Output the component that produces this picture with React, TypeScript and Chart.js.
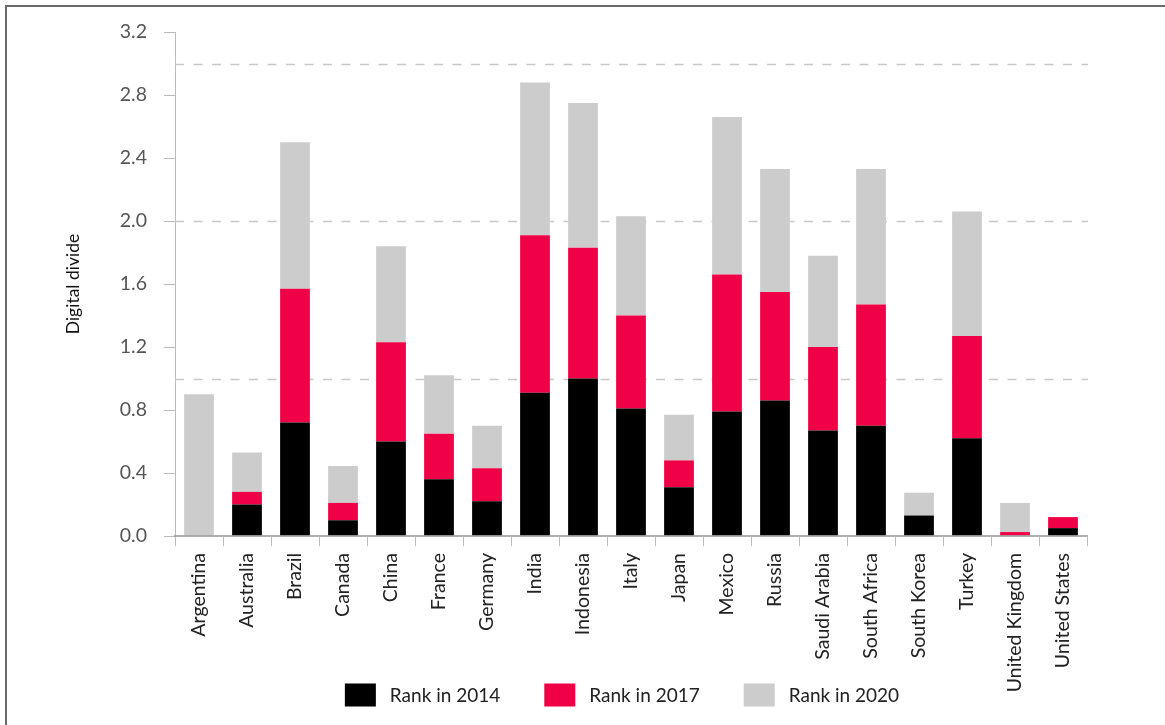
import React, { useEffect, useRef } from "react";
import { Chart, registerables } from "chart.js";
Chart.register(...registerables);

const categories = [
  "Argentina", "Australia", "Brazil", "Canada", "China", "France", "Germany",
  "India", "Indonesia", "Italy", "Japan", "Mexico", "Russia", "Saudi Arabia",
  "South Africa", "South Korea", "Turkey", "United Kingdom", "United States",
];
const rank2014 = [0, 0.2, 0.72, 0.1, 0.6, 0.36, 0.22, 0.91, 1.0, 0.81, 0.31, 0.79, 0.86, 0.67, 0.7, 0.13, 0.62, 0, 0.05];
const rank2017 = [0, 0.08, 0.85, 0.11, 0.63, 0.29, 0.21, 1.0, 0.83, 0.59, 0.17, 0.87, 0.69, 0.53, 0.77, 0, 0.65, 0.025, 0.07];
const rank2020 = [0.9, 0.25, 0.93, 0.235, 0.61, 0.37, 0.27, 0.97, 0.92, 0.63, 0.29, 1.0, 0.78, 0.58, 0.86, 0.145, 0.79, 0.185, 0];
const seriesLabels = ["Rank in 2014", "Rank in 2017", "Rank in 2020"];
const seriesColors = ["#000000", "#f00046", "#cccccc"];
const yTicks = [0, 0.4, 0.8, 1.2, 1.6, 2.0, 2.4, 2.8, 3.2];
const refLines = [1, 2, 3];
const yTitle = "Digital divide";

const FONT = "Lato, 'Noto Sans', sans-serif";

const refLinePlugin = {
  id: "refLines",
  beforeDatasetsDraw(chart: any) {
    const { ctx, chartArea } = chart;
    const y = chart.scales.y;
    ctx.save();
    ctx.strokeStyle = "#c8c8c8";
    ctx.lineWidth = 1.3;
    ctx.setLineDash([9, 9.5]);
    refLines.forEach((v) => {
      const py = Math.round(y.getPixelForValue(v)) + 0.5;
      ctx.beginPath();
      ctx.moveTo(chartArea.left, py);
      ctx.lineTo(chartArea.right + 1, py);
      ctx.stroke();
    });
    ctx.restore();
  },
};

const legendPlugin = {
  id: "customLegend",
  afterDraw(chart: any) {
    const { ctx, chartArea } = chart;
    const boxW = 31, boxH = 23, gapText = 14, gapItem = 44;
    ctx.save();
    ctx.font = `19px ${FONT}`;
    const items = chart.data.datasets.map((d: any) => ({
      label: d.label,
      color: d.backgroundColor,
      w: boxW + gapText + ctx.measureText(d.label).width,
    }));
    const total = items.reduce((s: number, it: any) => s + it.w, 0) + gapItem * (items.length - 1);
    let x = (chartArea.left + chartArea.right) / 2 - 9 - total / 2;
    const cy = 695;
    items.forEach((it: any) => {
      ctx.fillStyle = it.color;
      ctx.fillRect(x, cy - boxH / 2, boxW, boxH);
      ctx.fillStyle = "#222";
      ctx.textBaseline = "middle";
      ctx.textAlign = "left";
      ctx.fillText(it.label, x + boxW + gapText, cy + 1);
      x += it.w + gapItem;
    });
    ctx.restore();
  },
};

export default function App() {
  const ref = useRef<HTMLCanvasElement>(null);
  useEffect(() => {
    document.body.style.margin = "0";
    const canvas = ref.current!;
    const chart = new Chart(canvas, {
      type: "bar",
      data: {
        labels: categories,
        datasets: [rank2014, rank2017, rank2020].map((d, i) => ({
          label: seriesLabels[i],
          data: d,
          backgroundColor: seriesColors[i],
          borderWidth: 0,
          barPercentage: 0.62,
          categoryPercentage: 1,
        })),
      },
      options: {
        animation: false,
        responsive: false,
        devicePixelRatio: 1,
        layout: { padding: { left: 55, right: 78, top: 32, bottom: 19 } },
        plugins: { legend: { display: false }, tooltip: { enabled: false } },
        scales: {
          x: {
            stacked: true,
            afterFit: (s: any) => { s.height = 170; },
            grid: { display: true, drawOnChartArea: false, drawTicks: true, tickLength: 10, color: "#bbbbbb", offset: true },
            border: { display: true, color: "rgba(150,150,150,0.75)", width: 2, z: 1 },
            ticks: {
              autoSkip: false,
              maxRotation: 90,
              minRotation: 90,
              padding: 7,
              color: "#222",
              font: { family: FONT, size: 19.5 },
            },
          },
          y: {
            stacked: true,
            min: 0,
            max: 3.2,
            afterFit: (s: any) => { s.width = 120; },
            afterBuildTicks: (s: any) => { s.ticks = yTicks.map((v) => ({ value: v })); },
            grid: { display: true, drawOnChartArea: false, drawTicks: true, tickLength: 11, color: "#bbbbbb" },
            border: { display: true, color: "#bbbbbb", width: 1 },
            ticks: {
              padding: 17,
              color: "#555",
              font: { family: FONT, size: 19.5 },
              callback: (v: any) => Number(v).toFixed(1),
            },
            title: {
              display: true,
              text: yTitle,
              color: "#111",
              font: { family: FONT, size: 17.5 },
              padding: { top: 8, bottom: 0 },
            },
          },
        },
      },
      plugins: [refLinePlugin, legendPlugin],
    });
    return () => chart.destroy();
  }, []);
  return (
    <div style={{ position: "relative", width: 1165, height: 725, overflow: "hidden", background: "#fff" }}>
      <div style={{ position: "absolute", left: 5, top: 5, width: 1300, height: 900, border: "2px solid #6a6a6a" }} />
      <canvas ref={ref} width={1165} height={725} style={{ position: "absolute", left: 0, top: 0, width: 1165, height: 725 }} />
    </div>
  );
}
